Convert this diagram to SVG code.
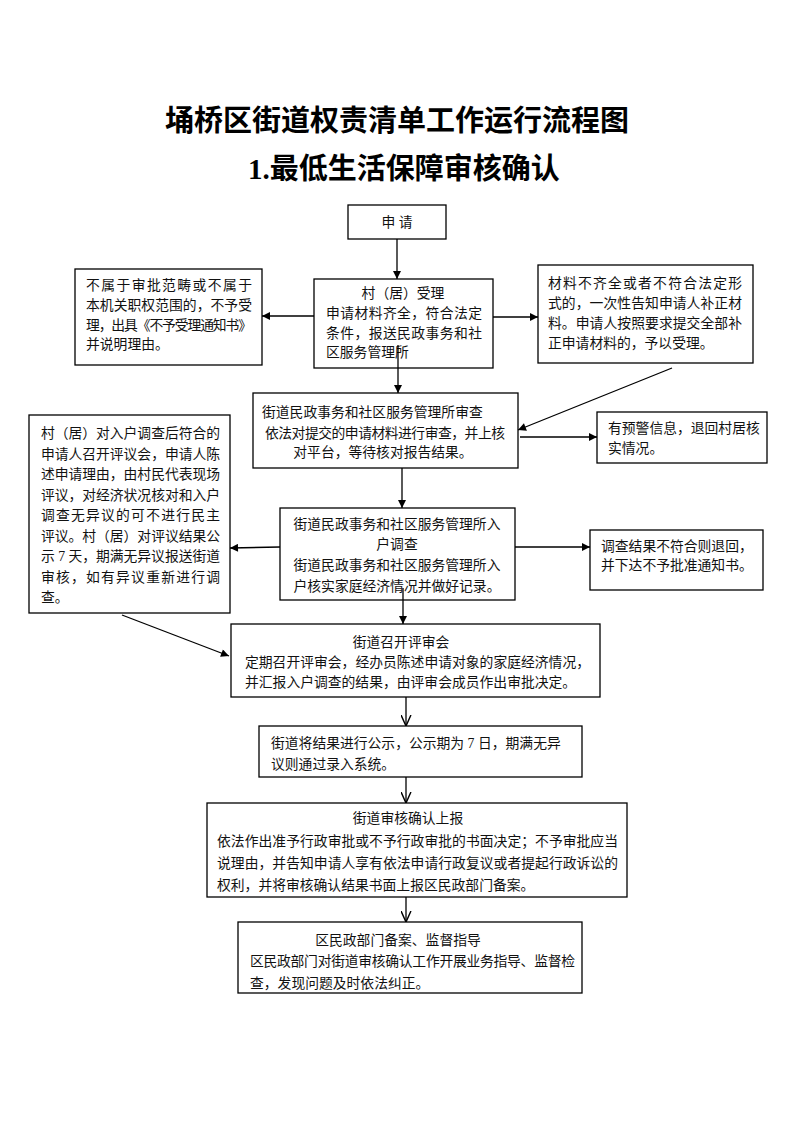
<svg xmlns="http://www.w3.org/2000/svg" width="793" height="1122" viewBox="0 0 793 1122">
<style>
.bg{fill:#fff}
.box{fill:#fff;stroke:#000;stroke-width:1.3}
.t{font-family:"Liberation Serif","Noto Sans CJK SC",serif;font-size:13.8px;fill:#111}
.c{text-anchor:middle}
.title{font-family:"Liberation Serif","Noto Sans CJK SC",serif;font-size:29px;font-weight:bold;fill:#000;text-anchor:middle}
.ln{stroke:#000;stroke-width:1.3;fill:none}
.f{marker-end:url(#fa)}
.o{marker-end:url(#oa)}
</style>
<defs>
<marker id="fa" viewBox="0 0 10 10" refX="10" refY="5" markerWidth="10" markerHeight="8" markerUnits="userSpaceOnUse" orient="auto">
<path d="M0,0 L10,5 L0,10 z" fill="#000"/>
</marker>
<marker id="oa" viewBox="0 0 10 10" refX="10" refY="5" markerWidth="11" markerHeight="11" markerUnits="userSpaceOnUse" orient="auto">
<path d="M0,0.5 L10,5 L0,9.5" fill="none" stroke="#000" stroke-width="1.3"/>
</marker>
</defs>
<rect class="bg" x="0" y="0" width="793" height="1122"/>
<g id="title">
<text class="title" x="397" y="131">埇桥区街道权责清单工作运行流程图</text>
<text class="title" x="404" y="179">1.最低生活保障审核确认</text>
</g>
<g id="n-apply">
<rect class="box" x="348" y="205" width="98" height="34"/>
<text class="t c" x="397" y="227">申 请</text>
</g>
<g id="n-accept">
<rect class="box" x="314" y="279" width="179" height="89"/>
<text class="t c" x="403" y="298">村（居）受理</text>
<text class="t" x="326" y="318" textLength="156" lengthAdjust="spacing">申请材料齐全，符合法定</text>
<text class="t" x="326" y="338" textLength="156" lengthAdjust="spacing">条件，报送民政事务和社</text>
<text class="t" x="326" y="357">区服务管理所</text>
</g>
<g id="n-reject">
<rect class="box" x="75" y="269" width="187" height="96"/>
<text class="t" x="86" y="290" textLength="166" lengthAdjust="spacing">不属于审批范畴或不属于</text>
<text class="t" x="86" y="310" textLength="166" lengthAdjust="spacing">本机关职权范围的，不予受</text>
<text class="t" x="86" y="330" textLength="166" lengthAdjust="spacing">理，出具《不予受理通知书》</text>
<text class="t" x="86" y="349">并说明理由。</text>
</g>
<g id="n-supplement">
<rect class="box" x="538" y="265" width="215" height="98"/>
<text class="t" x="548" y="288" textLength="194" lengthAdjust="spacing">材料不齐全或者不符合法定形</text>
<text class="t" x="548" y="308" textLength="194" lengthAdjust="spacing">式的，一次性告知申请人补正材</text>
<text class="t" x="548" y="328" textLength="194" lengthAdjust="spacing">料。申请人按照要求提交全部补</text>
<text class="t" x="548" y="348">正申请材料的，予以受理。</text>
</g>
<g id="n-review">
<rect class="box" x="253" y="393" width="265" height="75"/>
<text class="t" x="262" y="417">街道民政事务和社区服务管理所审查</text>
<text class="t" x="265" y="438" textLength="240" lengthAdjust="spacing">依法对提交的申请材料进行审查，并上核</text>
<text class="t c" x="383" y="457">对平台，等待核对报告结果。</text>
</g>
<g id="n-warning">
<rect class="box" x="597" y="412" width="170" height="51"/>
<text class="t" x="608" y="433">有预警信息，退回村居核</text>
<text class="t" x="608" y="453">实情况。</text>
</g>
<g id="n-survey">
<rect class="box" x="280" y="508" width="235" height="92"/>
<text class="t c" x="397" y="529">街道民政事务和社区服务管理所入</text>
<text class="t c" x="397" y="549">户调查</text>
<text class="t c" x="397" y="570">街道民政事务和社区服务管理所入</text>
<text class="t c" x="397" y="591">户核实家庭经济情况并做好记录。</text>
</g>
<g id="n-survey-fail">
<rect class="box" x="590" y="530" width="173" height="60"/>
<text class="t" x="601" y="551">调查结果不符合则退回，</text>
<text class="t" x="601" y="570">并下达不予批准通知书。</text>
</g>
<g id="n-village">
<rect class="box" x="29" y="415" width="201" height="198"/>
<text class="t" x="41" y="438" textLength="179" lengthAdjust="spacing">村（居）对入户调查后符合的</text>
<text class="t" x="41" y="458.5" textLength="179" lengthAdjust="spacing">申请人召开评议会，申请人陈</text>
<text class="t" x="41" y="479" textLength="179" lengthAdjust="spacing">述申请理由，由村民代表现场</text>
<text class="t" x="41" y="499.5" textLength="179" lengthAdjust="spacing">评议，对经济状况核对和入户</text>
<text class="t" x="41" y="520" textLength="179" lengthAdjust="spacing">调查无异议的可不进行民主</text>
<text class="t" x="41" y="540.5" textLength="179" lengthAdjust="spacing">评议。村（居）对评议结果公</text>
<text class="t" x="41" y="561" textLength="179" lengthAdjust="spacing">示 7 天，期满无异议报送街道</text>
<text class="t" x="41" y="581.5" textLength="179" lengthAdjust="spacing">审核，如有异议重新进行调</text>
<text class="t" x="41" y="602">查。</text>
</g>
<g id="n-meeting">
<rect class="box" x="231" y="624" width="369" height="73"/>
<text class="t c" x="401" y="647">街道召开评审会</text>
<text class="t" x="245" y="667" textLength="345" lengthAdjust="spacing">定期召开评审会，经办员陈述申请对象的家庭经济情况，</text>
<text class="t" x="245" y="687">并汇报入户调查的结果，由评审会成员作出审批决定。</text>
</g>
<g id="n-publicity">
<rect class="box" x="259" y="726" width="323" height="51"/>
<text class="t" x="271" y="748">街道将结果进行公示，公示期为 7 日，期满无异</text>
<text class="t" x="271" y="769">议则通过录入系统。</text>
</g>
<g id="n-confirm">
<rect class="box" x="207" y="803" width="420" height="94"/>
<text class="t c" x="408" y="823">街道审核确认上报</text>
<text class="t" x="217" y="846" textLength="401" lengthAdjust="spacing">依法作出准予行政审批或不予行政审批的书面决定；不予审批应当</text>
<text class="t" x="217" y="868" textLength="401" lengthAdjust="spacing">说理由，并告知申请人享有依法申请行政复议或者提起行政诉讼的</text>
<text class="t" x="217" y="890">权利，并将审核确认结果书面上报区民政部门备案。</text>
</g>
<g id="n-record">
<rect class="box" x="238" y="922" width="344" height="71"/>
<text class="t c" x="398" y="945">区民政部门备案、监督指导</text>
<text class="t" x="250" y="966" textLength="325" lengthAdjust="spacing">区民政部门对街道审核确认工作开展业务指导、监督检</text>
<text class="t" x="250" y="988">查，发现问题及时依法纠正。</text>
</g>
<g id="connectors">
<line class="ln f" x1="397" y1="239" x2="397" y2="279"/>
<line class="ln f" x1="314" y1="316" x2="262" y2="316"/>
<line class="ln f" x1="493" y1="317" x2="538" y2="317"/>
<line class="ln f" x1="398" y1="345" x2="398" y2="393"/>
<line class="ln f" x1="672" y1="368" x2="518" y2="430"/>
<line class="ln f" x1="520" y1="437" x2="597" y2="437"/>
<line class="ln f" x1="402" y1="468" x2="402" y2="508"/>
<line class="ln f" x1="280" y1="547" x2="230" y2="548"/>
<line class="ln f" x1="515" y1="547" x2="590" y2="547"/>
<line class="ln f" x1="403" y1="588" x2="403" y2="624"/>
<line class="ln f" x1="122" y1="615" x2="229" y2="656"/>
<line class="ln o" x1="406" y1="697" x2="406" y2="726"/>
<line class="ln o" x1="406" y1="777" x2="406" y2="803"/>
<line class="ln o" x1="406" y1="897" x2="406" y2="922"/>
</g>
</svg>
